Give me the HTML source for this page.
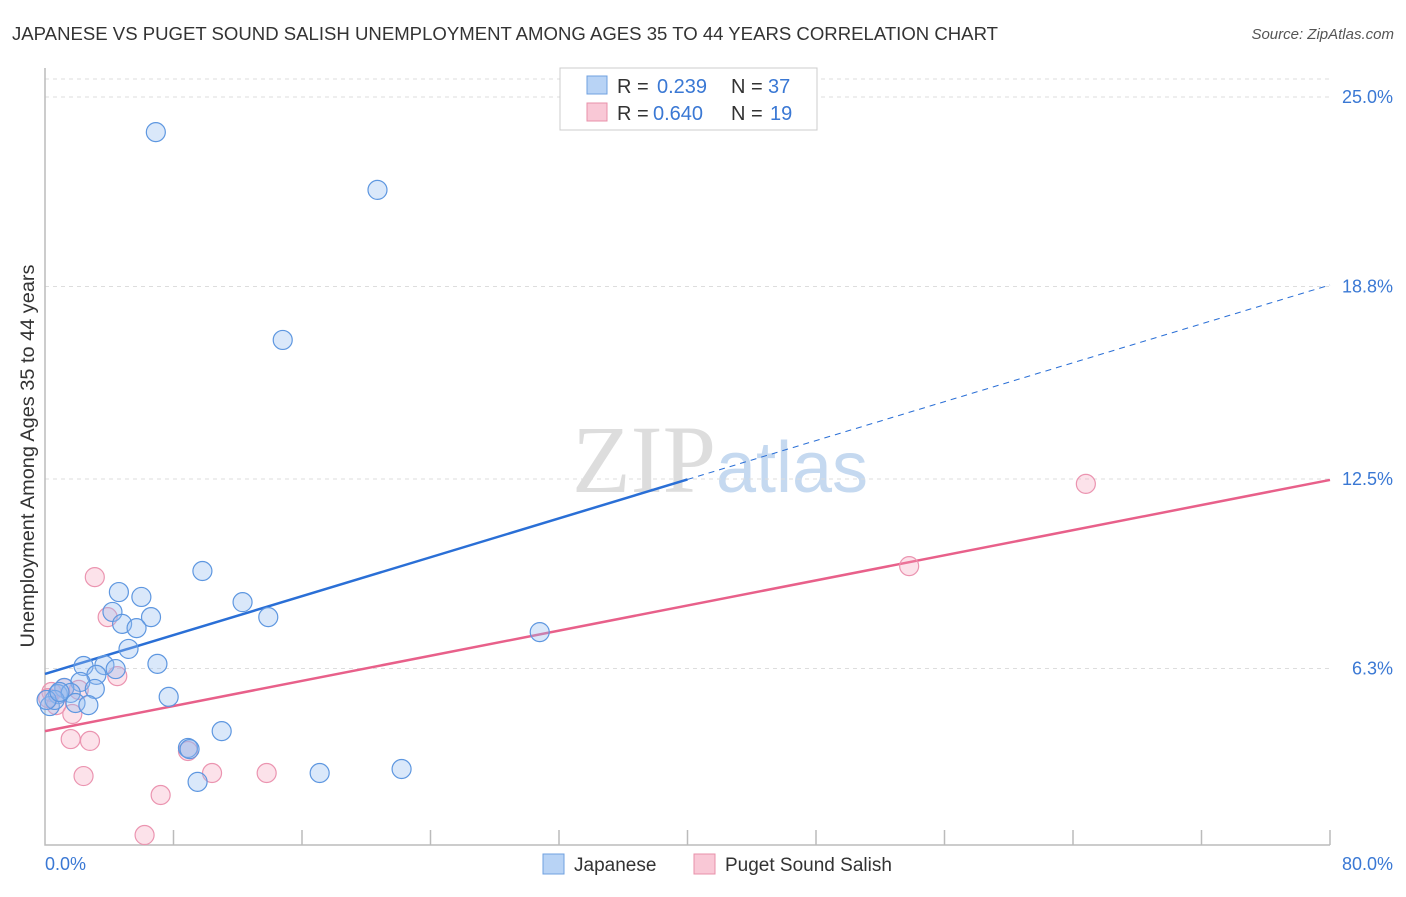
<!DOCTYPE html>
<html><head><meta charset="utf-8"><style>
body{margin:0;background:#fff;font-family:"Liberation Sans",sans-serif;}
</style></head><body>
<svg id="c" width="1406" height="892" xmlns="http://www.w3.org/2000/svg" font-family="Liberation Sans, sans-serif">
<text x="12" y="40" font-size="18" fill="#333" textLength="986" lengthAdjust="spacingAndGlyphs">JAPANESE VS PUGET SOUND SALISH UNEMPLOYMENT AMONG AGES 35 TO 44 YEARS CORRELATION CHART</text>
<text x="1394" y="39" font-size="15" fill="#555" text-anchor="end" font-style="italic">Source: ZipAtlas.com</text>
<text x="720" y="492" font-size="96" fill="#ddd" text-anchor="middle" font-family="Liberation Serif, serif">ZIP<tspan fill="#c5d9f0" font-family="Liberation Sans, sans-serif" font-size="72">atlas</tspan></text>
<text transform="translate(34,456) rotate(-90)" font-size="19" fill="#333" text-anchor="middle" textLength="383" lengthAdjust="spacingAndGlyphs">Unemployment Among Ages 35 to 44 years</text>
<g id="grid"></g><g id="axes"></g><g id="lines"></g><g id="pts"></g>
<g>
<rect x="560" y="68" width="257" height="62" fill="#fff" stroke="#ccc"/>
<rect x="587" y="76" width="20" height="18" fill="#b8d3f5" stroke="#6fa0e0"/>
<text x="617" y="93" font-size="20" fill="#333">R =</text>
<text x="657" y="93" font-size="20" fill="#3a78d4">0.239</text>
<text x="731" y="93" font-size="20" fill="#333">N =</text>
<text x="768" y="93" font-size="20" fill="#3a78d4">37</text>
<rect x="587" y="103" width="20" height="18" fill="#f9c8d6" stroke="#e890aa"/>
<text x="617" y="120" font-size="20" fill="#333">R =</text>
<text x="653" y="120" font-size="20" fill="#3a78d4">0.640</text>
<text x="731" y="120" font-size="20" fill="#333">N =</text>
<text x="770" y="120" font-size="20" fill="#3a78d4">19</text>
</g>
<g>
<rect x="543" y="854" width="21" height="20" fill="#b8d3f5" stroke="#6fa0e0"/>
<text x="574" y="871" font-size="19" fill="#333">Japanese</text>
<rect x="694" y="854" width="21" height="20" fill="#f9c8d6" stroke="#e890aa"/>
<text x="725" y="871" font-size="19" fill="#333">Puget Sound Salish</text>
</g>
</svg>
<script>
const yTicks=[25,18.8,12.5,6.3];
const yTickLabels=["25.0%","18.8%","12.5%","6.3%"];
const xEndLabels=["0.0%","80.0%"];
const japX=[6.9,20.7,14.8,9.8,4.6,6.0,12.3,4.2,6.6,13.9,4.8,5.7,30.8,5.2,7.0,2.4,3.7,4.4,3.2,2.2,1.2,3.1,0.8,1.6,7.7,1.9,2.7,0.3,0.6,11.0,8.9,9.0,17.1,22.2,9.5,0.1,0.9];
const japY=[23.85,21.96,17.05,9.49,8.8,8.64,8.47,8.15,7.98,7.98,7.76,7.62,7.49,6.94,6.45,6.38,6.41,6.28,6.09,5.86,5.66,5.63,5.46,5.5,5.37,5.17,5.1,5.07,5.27,4.25,3.7,3.66,2.88,3.01,2.59,5.27,5.53];
const pugX=[3.1,3.9,4.5,2.1,1.2,0.4,0.7,1.7,1.6,2.8,8.9,2.4,10.4,13.8,7.2,6.2,53.8,64.8,0.2];
const pugY=[9.29,7.98,6.05,5.6,5.66,5.53,5.1,4.81,3.99,3.93,3.6,2.78,2.88,2.88,2.16,0.85,9.65,12.34,5.33];
const japTrend=[6.12,18.85];
const pugTrend=[4.25,12.47];
const NS="http://www.w3.org/2000/svg";
const X=v=>45+v*16.0625, Y=v=>97+(25-v)*30.56;
function mk(t,a,p){const e=document.createElementNS(NS,t);for(const k in a)e.setAttribute(k,a[k]);document.getElementById(p).appendChild(e);return e;}
let g=mk('line',{x1:45,x2:1330,y1:79,y2:79,stroke:'#ddd','stroke-dasharray':'4 4'},'grid');


yTicks.forEach((t,i)=>{
 const l=mk('line',{x1:45,x2:1330,y1:Y(t),y2:Y(t),stroke:'#ddd','stroke-dasharray':'4 4'},'grid');
 
 
 const tx=mk('text',{x:1393,y:Y(t)+6,'font-size':18,fill:'#3a78d4','text-anchor':'end'},'axes');
 tx.textContent=yTickLabels[i];
 
 
});
let a=mk('path',{d:'M45 68V845H1330',fill:'none',stroke:'#bbb','stroke-width':1.5},'axes');


for(let i=1;i<=10;i++){const t=mk('line',{x1:45+i*128.5,x2:45+i*128.5,y1:830,y2:845,stroke:'#bbb','stroke-width':1.5},'axes');
 
 }
[[45,'start'],[1393,'end']].forEach((p,i)=>{const t=mk('text',{x:p[0],y:870,'font-size':18,fill:'#3a78d4','text-anchor':p[1]},'axes');t.textContent=xEndLabels[i];
 
 });
const yAt=(tr,x)=>tr[0]+(tr[1]-tr[0])*x/80;
let l1=mk('line',{x1:X(0),y1:Y(japTrend[0]),x2:X(40),y2:Y(yAt(japTrend,40)),stroke:'#2a6fd6','stroke-width':2.5},'lines');


let l2=mk('line',{x1:X(40),y1:Y(yAt(japTrend,40)),x2:X(80),y2:Y(japTrend[1]),stroke:'#2a6fd6','stroke-width':1,'stroke-dasharray':'6 5'},'lines');


let l3=mk('line',{x1:X(0),y1:Y(pugTrend[0]),x2:X(80),y2:Y(pugTrend[1]),stroke:'#e8608a','stroke-width':2.5},'lines');


pugX.forEach((x,i)=>{const c=mk('circle',{cx:X(x),cy:Y(pugY[i]),r:9.5,fill:'rgba(245,160,185,0.3)',stroke:'#eb94b0','stroke-width':1.2},'pts');
 
 });
japX.forEach((x,i)=>{const c=mk('circle',{cx:X(x),cy:Y(japY[i]),r:9.5,fill:'rgba(150,190,240,0.35)',stroke:'#5e97e0','stroke-width':1.2},'pts');
 
 });
</script>
</body></html>
